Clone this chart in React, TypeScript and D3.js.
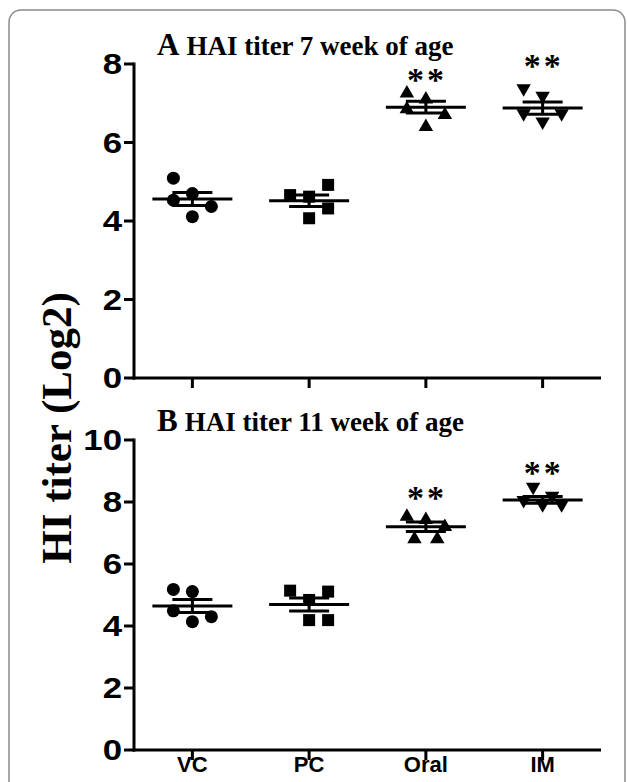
import React from "react";
import * as d3 from "d3";

const groups = ["VC", "PC", "Oral", "IM"];
const yTicksTop = [0, 2, 4, 6, 8];
const yTicksBottom = [0, 2, 4, 6, 8, 10];

// Panel A: 7 weeks
const vcA = [5.09, 4.7, 4.53, 4.37, 4.11];
const pcA = [4.92, 4.66, 4.62, 4.32, 4.07];
const oralA = [7.29, 7.14, 6.89, 6.74, 6.44];
const imA = [7.34, 7.15, 6.7, 6.7, 6.49];
// Panel B: 11 weeks
const vcB = [5.18, 5.11, 4.49, 4.3, 4.14];
const pcB = [5.14, 5.11, 4.84, 4.19, 4.19];
const oralB = [7.58, 7.47, 7.25, 6.85, 6.85];
const imB = [8.44, 8.15, 8.01, 7.87, 7.87];

// horizontal slot of each point within its column (scatter layout)
const slotsA = [
  [-1, 0, -1, 1, 0],
  [1, -1, 0, 1, 0],
  [-1, 0, -1, 1, 0],
  [-1, 0, -1, 1, 0],
];
const slotsB = [
  [-1, 0, -1, 1, 0],
  [-1, 1, 0, 0, 1],
  [-1, 0, 1, -0.6, 0.6],
  [-0.5, 0.5, -1, 0, 1],
];

// significance label level (in data units), null = none
const starsA = [null, null, 7.75, 8.1];
const starsB = [null, null, 8.33, 9.14];

const titleA = ["A", "HAI titer 7 week of age"];
const titleB = ["B", "HAI titer 11 week of age"];
const yLabel = "HI titer (Log2)";

const symbolTypes = [d3.symbolCircle, d3.symbolSquare, d3.symbolTriangle, d3.symbolTriangle];
const symbolSizes = [133, 144, 90, 90];
const symbolRotate = [0, 0, 0, 180];

const x = d3.scalePoint<string>().domain(groups).range([134, 601]).padding(0.5);
const SLOT = 19;

function mean(a: number[]) {
  return d3.mean(a) as number;
}
function sem(a: number[]) {
  return (d3.deviation(a) as number) / Math.sqrt(a.length);
}

type PanelProps = {
  data: number[][];
  slots: number[][];
  stars: (number | null)[];
  yMax: number;
  ticks: number[];
  yTop: number;
  yBottom: number;
  title: string[];
  showXLabels: boolean;
};

function Panel({ data, slots, stars, yMax, ticks, yTop, yBottom, title, showXLabels }: PanelProps) {
  const y = d3.scaleLinear().domain([0, yMax]).range([yBottom, yTop]);
  const x0 = 134;
  const x1 = 601;
  const tickFont = "'Liberation Sans', Arial, sans-serif";
  const serif = "'Liberation Serif', 'Times New Roman', serif";
  return (
    <g>
      {/* title */}
      <text x={157} y={yTop - 9} fontFamily={serif} fontWeight="bold" fill="#000">
        <tspan fontSize={31}>{title[0]}</tspan>
        <tspan fontSize={27} dx={7}>{title[1]}</tspan>
      </text>
      {/* y axis */}
      <line x1={x0} x2={x0} y1={y(yMax) - 1.5} y2={yBottom + 1.5} stroke="#000" strokeWidth={3} />
      {ticks.map((t) => (
        <g key={t}>
          <line x1={x0 - 10} x2={x0} y1={y(t)} y2={y(t)} stroke="#000" strokeWidth={3} />
          <g transform={`translate(${x0 - 12},${y(t)}) scale(1.2,1)`}>
            <text
              dy="0.36em"
              textAnchor="end"
              fontFamily={tickFont}
              fontWeight="bold"
              fontSize={29}
              fill="#000"
            >
              {t}
            </text>
          </g>
        </g>
      ))}
      {/* x axis */}
      <line x1={x0 - 1.5} x2={x1} y1={yBottom} y2={yBottom} stroke="#000" strokeWidth={3} />
      {groups.map((g) => (
        <g key={g}>
          <line x1={x(g)} x2={x(g)} y1={yBottom} y2={yBottom + 10} stroke="#000" strokeWidth={3} />
          {showXLabels && (
            <text
              x={x(g)}
              y={yBottom + 22}
              textAnchor="middle"
              fontFamily={tickFont}
              fontWeight="bold"
              fontSize={22}
              fill="#000"
            >
              {g}
            </text>
          )}
        </g>
      ))}
      {/* points */}
      {data.map((vals, gi) => {
        const cx = x(groups[gi]) as number;
        const path = d3.symbol().type(symbolTypes[gi]).size(symbolSizes[gi])() as string;
        return vals.map((v, i) => (
          <path
            key={`${gi}-${i}`}
            d={path}
            fill="#000"
            transform={`translate(${cx + slots[gi][i] * SLOT},${y(v) + (gi === 2 ? 1.5 : gi === 3 ? -1.5 : 0)}) rotate(${symbolRotate[gi]})`}
          />
        ));
      })}
      {/* mean and SEM */}
      {data.map((vals, gi) => {
        const cx = x(groups[gi]) as number;
        const m = mean(vals);
        const s = sem(vals);
        return (
          <g key={`m${gi}`} stroke="#000" strokeWidth={3}>
            <line x1={cx - 40} x2={cx + 40} y1={y(m)} y2={y(m)} />
            <line x1={cx} x2={cx} y1={y(m - s)} y2={y(m + s)} />
            <line x1={cx - 20} x2={cx + 20} y1={y(m + s)} y2={y(m + s)} />
            <line x1={cx - 20} x2={cx + 20} y1={y(m - s)} y2={y(m - s)} />
          </g>
        );
      })}
      {/* significance */}
      {stars.map((s, gi) =>
        s == null ? null : (
          <text
            key={`s${gi}`}
            x={(x(groups[gi]) as number) + 1}
            y={y(s) + 17}
            textAnchor="middle"
            fontFamily={serif}
            fontWeight="bold"
            fontSize={34}
            letterSpacing={3}
            fill="#000"
          >
            **
          </text>
        )
      )}
    </g>
  );
}

export default function App() {
  return (
    <svg
      width={627}
      height={782}
      style={{ position: "absolute", left: 0, top: 0, background: "#fff" }}
    >
      <rect x={0} y={0} width={627} height={782} fill="#fff" />
      <rect x={9} y={10} width={616} height={820} rx={12} ry={12} fill="none" stroke="#8a8a8a" strokeWidth={1.5} />
      <Panel
        data={[vcA, pcA, oralA, imA]}
        slots={slotsA}
        stars={starsA}
        yMax={8}
        ticks={yTicksTop}
        yTop={64}
        yBottom={378}
        title={titleA}
        showXLabels={false}
      />
      <Panel
        data={[vcB, pcB, oralB, imB]}
        slots={slotsB}
        stars={starsB}
        yMax={10}
        ticks={yTicksBottom}
        yTop={440}
        yBottom={750}
        title={titleB}
        showXLabels={true}
      />
      <text
        transform="translate(71,428) rotate(-90)"
        textAnchor="middle"
        fontFamily="'Liberation Serif', 'Times New Roman', serif"
        fontWeight="bold"
        fontSize={43}
        fill="#000"
      >
        {yLabel}
      </text>
    </svg>
  );
}
